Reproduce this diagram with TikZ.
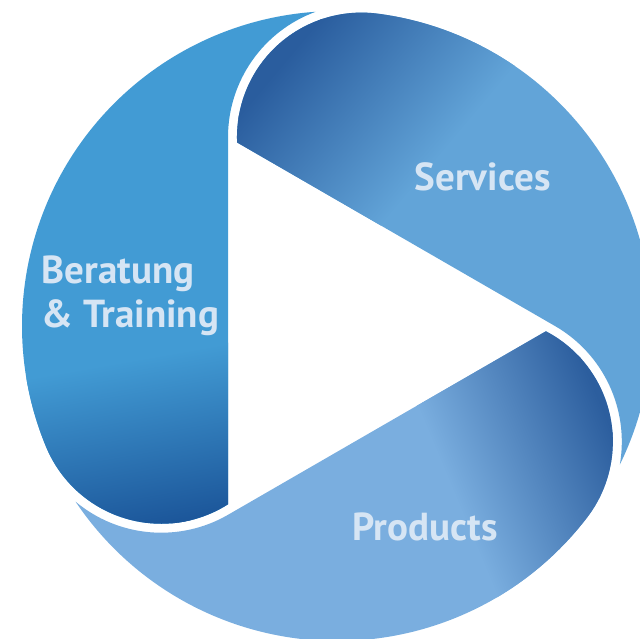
\documentclass[tikz,border=0pt]{standalone}
\usepackage{fontspec}
\setmainfont{PT Sans}
\usepackage{tikz}

\definecolor{berlight}{RGB}{66,155,212}
\definecolor{berdark}{RGB}{27,85,153}
\definecolor{servdark}{RGB}{42,93,158}
\definecolor{servlight}{RGB}{98,164,216}
\definecolor{prodlight}{RGB}{122,174,223}
\definecolor{proddark}{RGB}{44,94,158}
\definecolor{lbltext}{RGB}{214,229,244}

\newcommand\segpath{(-99.9,183.5) -- (218,0) arc[start angle=60,end angle=-9.87,radius=133.6]
  arc[start angle=-26.11,end angle=82.58,radius=315] arc[start angle=82.58,end angle=182.4,radius=124.6] -- cycle}

\begin{document}
\begin{tikzpicture}[x=0.01cm,y=0.01cm,
  lbl/.style={text=lbltext,font=\fontsize{11.1pt}{12.5pt}\selectfont\bfseries,inner sep=0pt,anchor=base west}]
  \useasboundingbox (-337,-312) rectangle (303,326);
  \clip (-337,-312) rectangle (303,326);
  \begin{scope}
    \clip \segpath;
    \begin{scope}[transform canvas={shift={(-77,236)},rotate=-40}]
      \fill[servlight] (-600,-600) rectangle (800,600);
      \fill[servdark] (-600,-600) rectangle (2,600);
      \shade[left color=servdark,right color=servlight] (0,-600) rectangle (180,600);
    \end{scope}
  \end{scope}
  \begin{scope}
    \clip[rotate=120] \segpath;
    \begin{scope}[transform canvas={shift={(-150,-24)},rotate=10}]
      \fill[berlight] (-600,-700) rectangle (600,600);
      \fill[berdark] (-600,-700) rectangle (600,-168);
      \shade[top color=berlight,bottom color=berdark] (-600,-170) rectangle (600,0);
    \end{scope}
  \end{scope}
  \begin{scope}
    \clip[rotate=-120] \segpath;
    \begin{scope}[transform canvas={shift={(83,-87)},rotate=22.7}]
      \fill[prodlight] (-700,-700) rectangle (700,700);
      \fill[proddark] (168,-700) rectangle (700,700);
      \shade[left color=prodlight,right color=proddark] (0,-700) rectangle (170,700);
    \end{scope}
  \end{scope}
  \node[lbl] (serv) at (77,136) {Services};
  \node[lbl,align=left] (ber) at (-296,-1) {Beratung\\\& Training};
  \node[lbl] (prod) at (15,-214) {Products};
\end{tikzpicture}
\end{document}
